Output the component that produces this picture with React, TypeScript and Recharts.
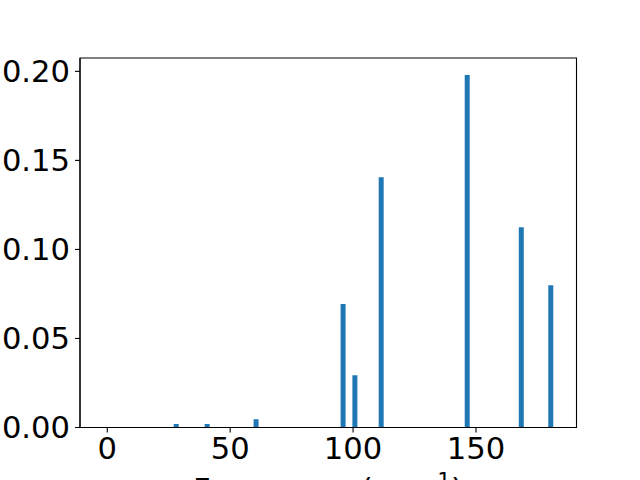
import React from 'react';
import { BarChart, Bar, XAxis, YAxis, ReferenceArea } from 'recharts';

const frequencies = [28.2, 40.8, 60.7, 96.1, 100.9, 111.6, 146.6, 168.6, 180.6];
const intensities = [0.0019, 0.0019, 0.0047, 0.0693, 0.0294, 0.1406, 0.1979, 0.1125, 0.0799];
const xTicks = [0, 50, 100, 150];
const yTicks = [0, 0.05, 0.1, 0.15, 0.2];

const X_DOMAIN = [-11.1, 190.9];
const Y_DOMAIN = [0, 0.2075];

const data = frequencies.map((f, i) => ({ freq: f, intensity: intensities[i] }));

const FONT = 'DejaVu Sans';
const FS = 30.6;

const XLabel = () => (
  <text x={328} y={500} textAnchor="middle" fontFamily={FONT} fontSize={FS} fill="#000">
    Frequency (cm
    <tspan dy={-11.7} fontSize={FS * 0.7}>−1</tspan>
    <tspan dy={11.7}>)</tspan>
  </text>
);

const App: React.FC = () => {
  const tickStyle = { fontFamily: FONT, fontSize: FS, fill: '#000' };
  return (
    <div style={{ position: 'absolute', left: 0, top: 0, width: 640, height: 480, background: '#fff' }}>
      <BarChart width={640} height={480} data={data} margin={{ top: 58, right: 63.5, left: 0, bottom: 0 }}>
        <XAxis
          dataKey="freq"
          type="number"
          domain={X_DOMAIN}
          allowDataOverflow
          ticks={xTicks}
          height={52.5}
          tick={tickStyle}
          tickSize={5}
          tickMargin={5}
          axisLine={{ stroke: '#000', strokeWidth: 1.1 }}
          tickLine={{ stroke: '#000', strokeWidth: 1.1 }}
          label={{ content: () => <XLabel /> }}
        />
        <YAxis
          type="number"
          domain={Y_DOMAIN}
          allowDataOverflow
          ticks={yTicks}
          width={80}
          tick={tickStyle}
          tickSize={5}
          tickMargin={5}
          tickFormatter={(v: number) => v.toFixed(2)}
          axisLine={{ stroke: '#000', strokeWidth: 1.1 }}
          tickLine={{ stroke: '#000', strokeWidth: 1.1 }}
        />
        <Bar dataKey="intensity" fill="#1f77b4" barSize={5} isAnimationActive={false} />
        {/* frame around the plot area */}
        <ReferenceArea
          x1={X_DOMAIN[0]}
          x2={X_DOMAIN[1]}
          y1={Y_DOMAIN[0]}
          y2={Y_DOMAIN[1]}
          fill="none"
          fillOpacity={0}
          stroke="#000"
          strokeWidth={1.1}
          strokeOpacity={1}
          ifOverflow="extendDomain"
        />
      </BarChart>
    </div>
  );
};

export default App;
